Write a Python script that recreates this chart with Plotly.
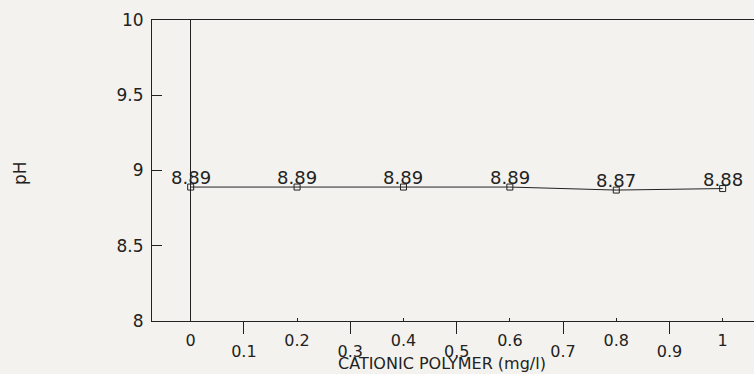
import plotly.graph_objects as go

# Data
polymer_dose = [0, 0.2, 0.4, 0.6, 0.8, 1.0]
ph_values = [8.89, 8.89, 8.89, 8.89, 8.87, 8.88]
point_labels = ["8.89", "8.89", "8.89", "8.89", "8.87", "8.88"]

x_even_ticks = [0, 0.2, 0.4, 0.6, 0.8, 1.0]
x_even_labels = ["0", "0.2", "0.4", "0.6", "0.8", "1"]
x_odd_ticks = [0.1, 0.3, 0.5, 0.7, 0.9]
x_odd_labels = ["0.1", "0.3", "0.5", "0.7", "0.9"]
y_ticks = [8, 8.5, 9, 9.5, 10]
y_labels = ["8", "8.5", "9", "9.5", "10"]

FONT = "DejaVu Sans"
BG = "#f4f2ee"
INK = "#222"
X_RANGE = [-0.0727, 1.0589]

W, H = 754, 374
ML, MT, MB = 152, 20, 53

fig = go.Figure()
fig.add_trace(go.Scatter(
    x=polymer_dose, y=ph_values, mode="lines+markers",
    line=dict(color=INK, width=1),
    marker=dict(symbol="square-open", size=6, color=INK, line=dict(width=1)),
    showlegend=False, cliponaxis=False,
))
# invisible trace so the secondary (odd tick) axis is drawn
fig.add_trace(go.Scatter(x=[None], y=[None], xaxis="x2", showlegend=False, hoverinfo="skip"))

annotations = [
    dict(x=xv, y=yv, text=t, xref="x", yref="y", showarrow=False,
         yanchor="bottom", yshift=-3, font=dict(family=FONT, size=18, color=INK))
    for xv, yv, t in zip(polymer_dose, ph_values, point_labels)
]

pw, ph = W - ML, H - MT - MB
annotations.append(dict(text="pH", x=(20 - ML) / pw, y=(H - MB - 173) / ph,
                        xref="paper", yref="paper", showarrow=False, textangle=-90,
                        xanchor="center", yanchor="middle",
                        font=dict(size=17, family=FONT, color=INK)))
annotations.append(dict(text="CATIONIC POLYMER (mg/l)", x=(442 - ML) / pw, y=(H - MB - 363) / ph,
                        xref="paper", yref="paper", showarrow=False,
                        xanchor="center", yanchor="middle",
                        font=dict(size=16, family=FONT, color=INK)))

fig.update_layout(
    width=W, height=H,
    margin=dict(l=ML, r=0, t=MT, b=MB),
    paper_bgcolor=BG, plot_bgcolor=BG,
    font=dict(family=FONT, color=INK),
    xaxis=dict(
        range=X_RANGE, tickvals=x_even_ticks, ticktext=x_even_labels,
        ticks="outside", ticklen=0, tickfont=dict(size=16),
        ticklabelstandoff=5,
        showline=True, linecolor=INK, linewidth=1, mirror=True,
        showgrid=False, zeroline=True, zerolinecolor=INK, zerolinewidth=1,
        minor=dict(dtick=0.2, tick0=0, ticks="inside", ticklen=3, tickcolor=INK),
    ),
    xaxis2=dict(
        range=X_RANGE, overlaying="x", side="bottom", anchor="y",
        tickvals=x_odd_ticks, ticktext=x_odd_labels,
        ticks="outside", ticklen=12, tickcolor=INK, tickfont=dict(size=16),
        ticklabelstandoff=4,
        showline=False, showgrid=False, zeroline=False,
    ),
    yaxis=dict(
        range=[8, 10], tickvals=y_ticks, ticktext=y_labels,
        ticks="inside", ticklen=10, tickcolor=INK, tickfont=dict(size=17),
        ticklabelstandoff=4,
        showline=True, linecolor=INK, linewidth=1,
        showgrid=False, zeroline=False,
    ),
    annotations=annotations,
)

fig.write_html(
    "out.html",
    config={"displayModeBar": False},
    post_script="document.body.style.margin='0';document.body.style.overflow='hidden';",
)
